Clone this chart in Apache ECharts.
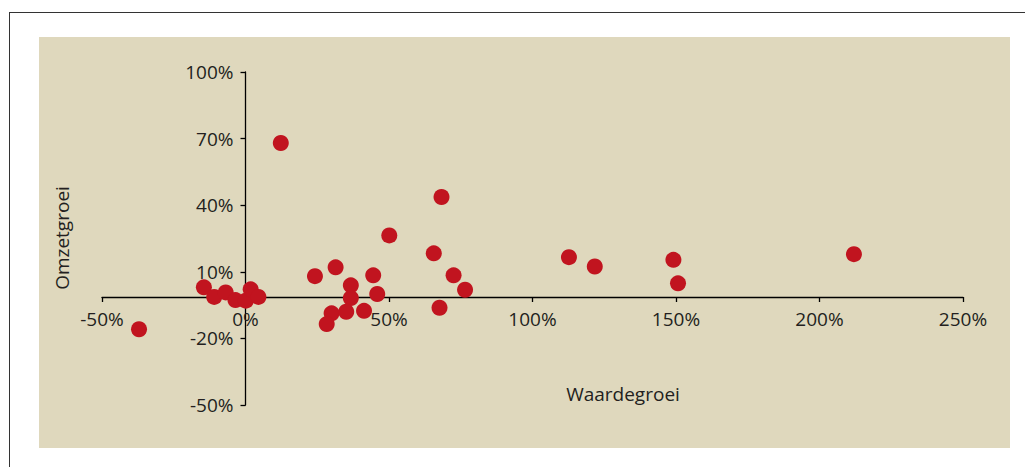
<!DOCTYPE html>
<html>
<head>
<meta charset="utf-8">
<script src="https://cdn.jsdelivr.net/npm/echarts@6/dist/echarts.min.js"></script>
<style>
html,body{margin:0;padding:0;background:#fff;}
#c{width:1025px;height:467px;}
</style>
</head>
<body>
<div id="c"></div>
<script>
// Waardegroei (x, %) and Omzetgroei (y, %) per point
const waardegroei = [-37.1, 12.3, -14.5, -10.9, -6.9, -3.5, 0.1, 1.8, 4.5, 24.2, 31.4, 36.7, 36.7, 30.0, 28.3, 35.1, 41.3, 44.5, 45.9, 50.1, 68.3, 65.6, 72.5, 76.5, 67.6, 112.7, 121.7, 149.1, 150.7, 212.0];
const omzetgroei  = [-15.9, 68.0, 3.0, -1.3, 0.7, -2.75, -3.0, 2.1, -1.3, 8.05, 12.0, 3.9, -1.85, -8.7, -13.55, -8.0, -7.6, 8.4, 0.0, 26.4, 43.7, 18.3, 8.4, 1.9, -6.2, 16.6, 12.4, 15.4, 4.8, 17.95];
const xTicks = {min: -50, max: 250, step: 50};
const yTicks = {min: -50, max: 100, step: 30};
const xTitle = 'Waardegroei';
const yTitle = 'Omzetgroei';

const points = waardegroei.map((x, i) => [x, omzetgroei[i]]);
const FONT = '"Open Sans", sans-serif';
const TXT = '#231f20';

const chart = echarts.init(document.getElementById('c'), null, {renderer: 'svg'});
chart.setOption({
  backgroundColor: '#ffffff',
  animation: false,
  grid: {left: 102, top: 72, right: 62, bottom: 62, containLabel: false},
  graphic: [
    {type: 'rect', z: -10, shape: {x: 39, y: 37, width: 971, height: 411}, style: {fill: '#dfd8bd'}},
    {type: 'line', z: -10, shape: {x1: 9.5, y1: 12, x2: 9.5, y2: 467}, style: {stroke: '#333', lineWidth: 1}},
    {type: 'line', z: -10, shape: {x1: 9, y1: 12.5, x2: 1025, y2: 12.5}, style: {stroke: '#333', lineWidth: 1}},
    {type: 'text', x: 623, y: 394, style: {text: xTitle, font: '19px ' + FONT, fill: TXT, align: 'center', verticalAlign: 'middle'}},
    {type: 'text', x: 62, y: 238, rotation: Math.PI / 2, style: {text: yTitle, font: '19px ' + FONT, fill: TXT, align: 'center', verticalAlign: 'middle'}}
  ],
  xAxis: {
    type: 'value', min: xTicks.min, max: xTicks.max, interval: xTicks.step,
    offset: -108,
    splitLine: {show: false},
    axisLine: {show: true, onZero: false, lineStyle: {color: '#000', width: 1.3}},
    axisTick: {show: true, inside: false, length: 5, lineStyle: {color: '#000', width: 1.3}},
    axisLabel: {formatter: v => v + '%', fontFamily: FONT, fontSize: 19, color: TXT, margin: 12, showMinLabel: true, showMaxLabel: true}
  },
  yAxis: {
    type: 'value', min: yTicks.min, max: yTicks.max, interval: yTicks.step,
    offset: -143.5,
    splitLine: {show: false},
    axisLine: {show: true, onZero: false, lineStyle: {color: '#000', width: 1.3}},
    axisTick: {show: true, inside: false, length: 5, lineStyle: {color: '#000', width: 1.3}},
    axisLabel: {formatter: v => v + '%', fontFamily: FONT, fontSize: 19, color: TXT, margin: 12, showMinLabel: true, showMaxLabel: true}
  },
  series: [{
    type: 'scatter',
    data: points,
    symbol: 'circle',
    symbolSize: 16,
    itemStyle: {color: '#c1141f', opacity: 1},
    z: 5
  }]
});
</script>
</body>
</html>
